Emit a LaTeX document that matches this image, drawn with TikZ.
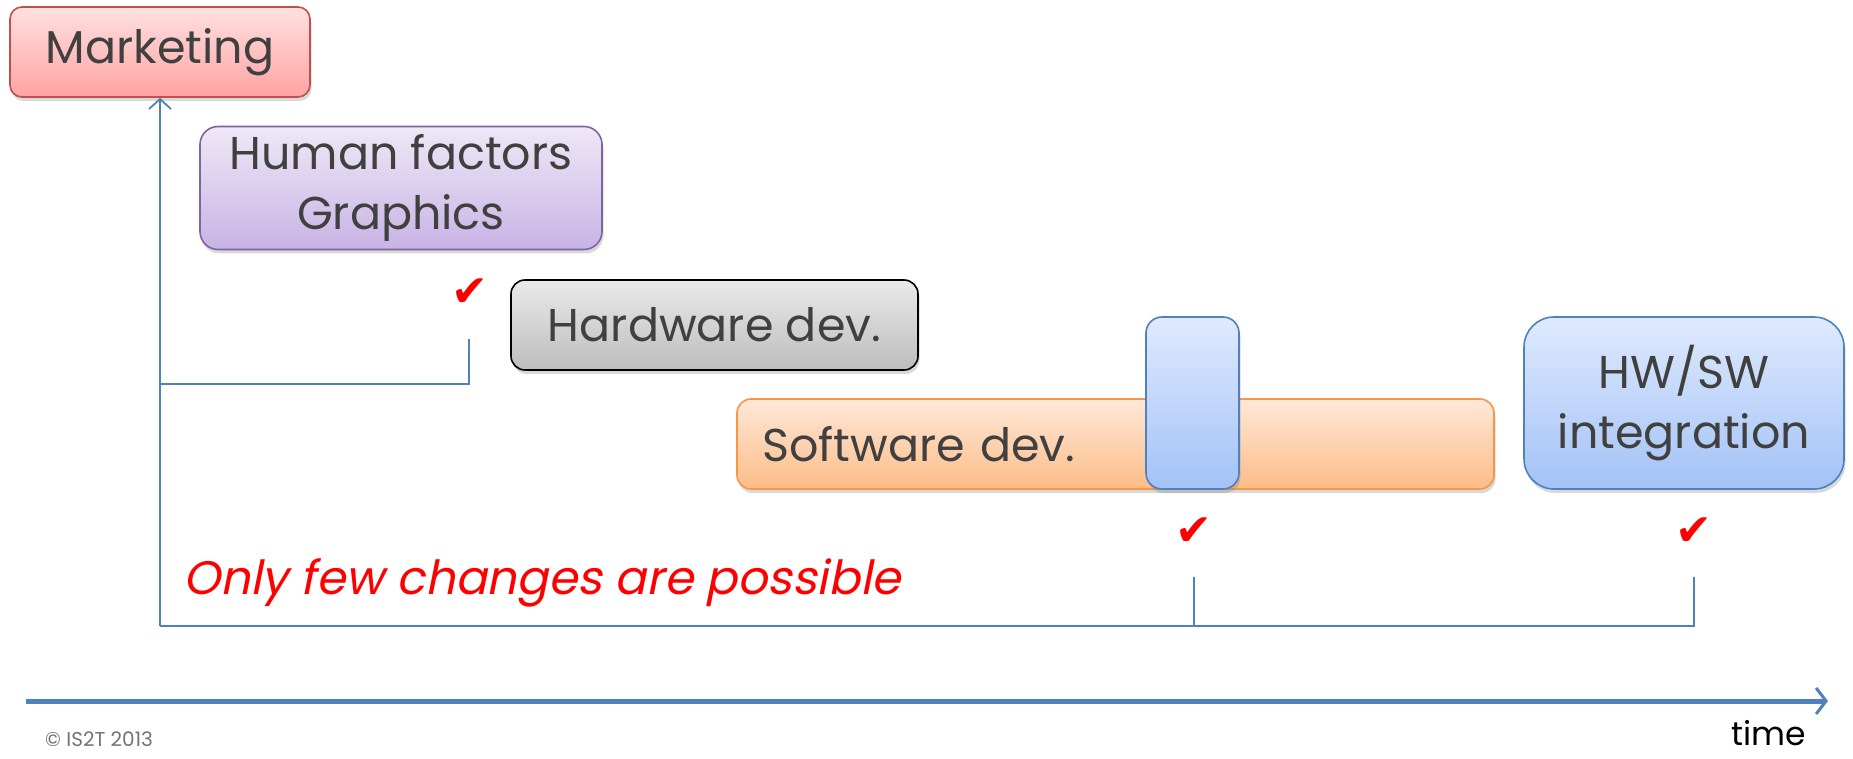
\documentclass[tikz,border=0pt]{standalone}
\usepackage{fontspec}
\setmainfont{Poppins}
\newfontfamily\symfont{DejaVu Sans}
\newfontfamily\slantfont[FakeSlant=0.2]{Poppins}
\usetikzlibrary{shadows,arrows.meta}
\definecolor{txt}{HTML}{404040}
\definecolor{lineblue}{HTML}{4F81BD}
\definecolor{mktTop}{HTML}{FFE0E0}
\definecolor{mktBot}{HTML}{FFA3A3}
\definecolor{mktLine}{HTML}{C0504D}
\definecolor{hfTop}{HTML}{EEE8F6}
\definecolor{hfBot}{HTML}{C8B3E5}
\definecolor{hfLine}{HTML}{8064A2}
\definecolor{hwTop}{HTML}{EAEAEA}
\definecolor{hwBot}{HTML}{BDBDBD}
\definecolor{swTop}{HTML}{FEE8D8}
\definecolor{swBot}{HTML}{FCBC88}
\definecolor{swLine}{HTML}{F79646}
\definecolor{blTop}{HTML}{DFEAFD}
\definecolor{blBot}{HTML}{A3C2F6}
\definecolor{chk}{HTML}{FF0000}
\tikzset{
  box/.style={draw, line width=1.6pt, inner sep=0pt, text=txt,
    font=\fontsize{46}{60}\selectfont, align=center,
    drop shadow={opacity=0.3, shadow xshift=1.5pt, shadow yshift=-4pt}},
  redbox/.style={top color=mktTop, bottom color=mktBot, draw=mktLine, rounded corners=12pt},
  purplebox/.style={top color=hfTop, bottom color=hfBot, draw=hfLine, rounded corners=18pt},
  graybox/.style={top color=hwTop, bottom color=hwBot, draw=black, rounded corners=14pt},
  orangebox/.style={top color=swTop, bottom color=swBot, draw=swLine, rounded corners=14pt},
  bluebox/.style={top color=blTop, bottom color=blBot, draw=lineblue},
  conn/.style={draw=lineblue, line width=1.8pt},
  checkmark/.style={text=chk, font=\symfont\fontsize{44}{50}\selectfont, inner sep=0pt},
}
\begin{document}
\begin{tikzpicture}[x=1pt,y=-1pt]
\useasboundingbox (0,0) rectangle (1853,759);
% boxes
\node[box, redbox, minimum width=300pt, minimum height=90pt] (mkt) at (160,52) {Marketing};
\node[box, purplebox, minimum width=402pt, minimum height=123pt] (hf) at (401,188) {Human factors\\Graphics};
\node[box, graybox, minimum width=407pt, minimum height=90pt] (hw) at (714.5,325) {Hardware dev.};
\node[box, orangebox, minimum height=90pt, text width=707pt, inner xsep=25pt, align=left] (sw) at (1115.5,444) {Software dev.};
\node[box, bluebox, rounded corners=16pt, minimum width=93pt, minimum height=172pt] (gate) at (1192.5,403) {};
\node[box, bluebox, rounded corners=30pt, minimum width=320pt, minimum height=172pt] (int) at (1684,403) {HW/SW\\integration};
% check marks
\node[checkmark] (c1) at (470,293) {✔};
\node[checkmark] (c2) at (1194,532) {✔};
\node[checkmark] (c3) at (1694,532) {✔};
% connectors
\coordinate (origin) at (160,626);
\coordinate (h1) at (160,384);
\coordinate (h2) at (469,339);
\coordinate (t2) at (1194,577);
\coordinate (b2) at (1194,626);
\coordinate (t3) at (1694,577);
\coordinate (b3) at (1694,626);
\draw[conn] (h1) -| (h2);
\draw[conn] (t3) -- (b3) -- (origin);
\draw[conn] (t2) -- (b2);
\draw[conn, -{Straight Barb[length=10pt, width=22pt, line width=1.8pt]}] (origin) -- (mkt.south);
% time axis
\coordinate (ts) at (26,701);
\coordinate (te) at (1828,701);
\draw[draw=lineblue, line width=5pt, -{Straight Barb[length=10pt, width=26pt, line width=3pt]}] (ts) -- (te);
% texts
\node[anchor=base west, inner sep=0pt, text=chk, font=\slantfont\fontsize{47}{54}\selectfont] (note) at (183,594) {Only few changes are possible};
\node[anchor=base east, inner sep=0pt, text depth=0pt, text=black, font=\fontsize{33}{40}\selectfont] (time) at (1806,745) {time};
\node[anchor=base west, inner sep=0pt, text depth=0pt, text=black!55, font=\fontsize{20}{24}\selectfont] (copy) at (45,746) {© IS2T 2013};
\end{tikzpicture}
\end{document}
